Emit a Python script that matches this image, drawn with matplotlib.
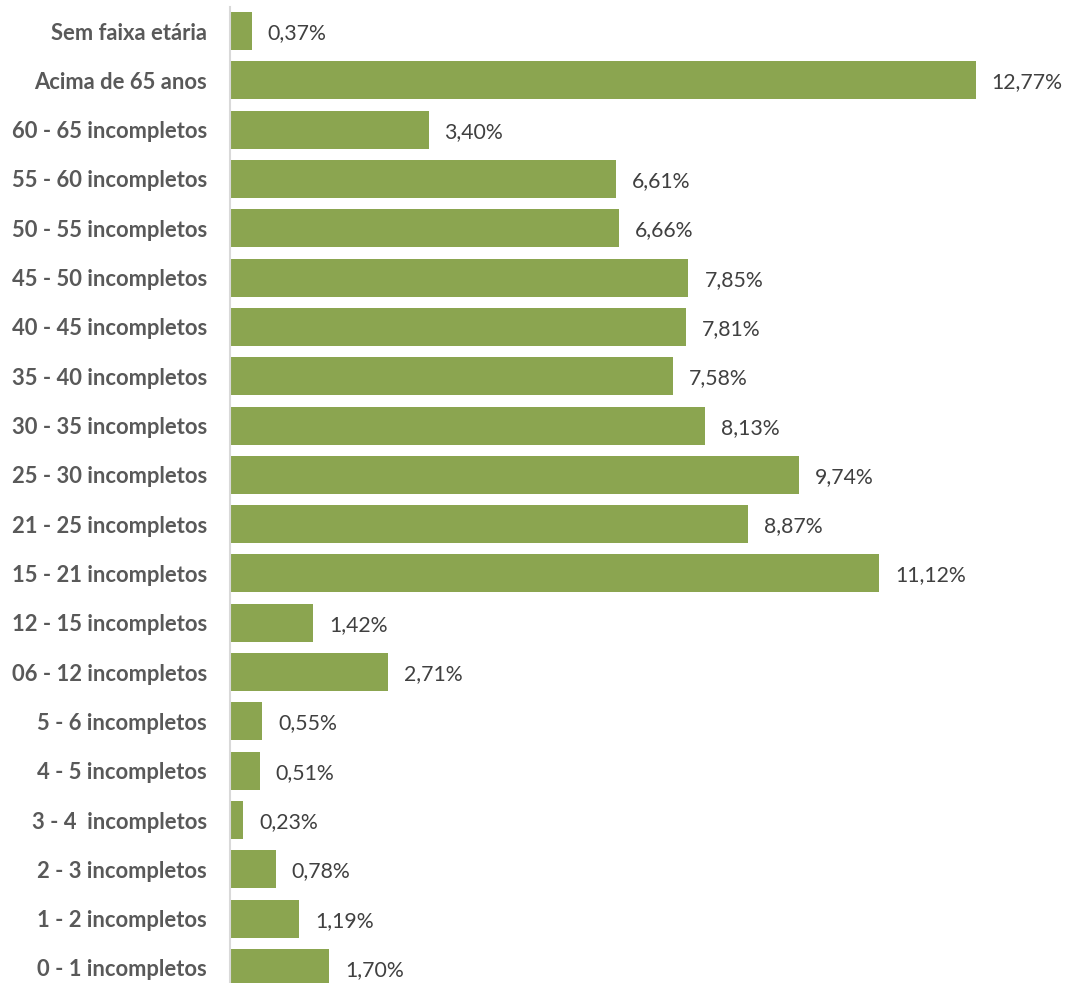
import matplotlib
matplotlib.use("Agg")
import matplotlib.pyplot as plt

# Faixas etárias, de baixo para cima
faixas = [
    "0 - 1 incompletos",
    "1 - 2 incompletos",
    "2 - 3 incompletos",
    "3 - 4  incompletos",
    "4 - 5 incompletos",
    "5 - 6 incompletos",
    "06 - 12 incompletos",
    "12 - 15 incompletos",
    "15 - 21 incompletos",
    "21 - 25 incompletos",
    "25 - 30 incompletos",
    "30 - 35 incompletos",
    "35 - 40 incompletos",
    "40 - 45 incompletos",
    "45 - 50 incompletos",
    "50 - 55 incompletos",
    "55 - 60 incompletos",
    "60 - 65 incompletos",
    "Acima de 65 anos",
    "Sem faixa etária",
]
percentuais = [1.70, 1.19, 0.78, 0.23, 0.51, 0.55, 2.71, 1.42, 11.12, 8.87,
               9.74, 8.13, 7.58, 7.81, 7.85, 6.66, 6.61, 3.40, 12.77, 0.37]

W, H = 1069, 983
fig = plt.figure(figsize=(W / 100, H / 100), dpi=100)
ax = fig.add_axes([230 / W, 0, 1 - 230 / W, 1 - 7 / H])

pos = list(range(len(faixas)))
ax.barh(pos, percentuais, height=0.77, color="#8BA550", edgecolor="none")

# eixo y: centro da barra 19 em y=31px, barra 0 em y=968px
step = (968 - 31) / 19
ax.set_ylim(-(983 - 968) / step, 19 + (31 - 7) / step)
ax.set_xlim(0, (W - 230) / 58.4)

ax.set_yticks(pos)
ax.set_yticklabels(faixas, fontfamily="Lato", fontweight="bold",
                   fontsize=15.8, color="#595959")
ax.tick_params(axis="y", length=0, pad=16.5)
ax.set_xticks([])
for s in ["top", "right", "bottom"]:
    ax.spines[s].set_visible(False)
ax.spines["left"].set_color("#D9D9D9")
ax.spines["left"].set_linewidth(1.5)

for y, v in zip(pos, percentuais):
    ax.annotate(f"{v:.2f}%".replace(".", ","), (v, y), xytext=(11.5, -1.5),
                textcoords="offset points", va="center", ha="left",
                fontfamily="Lato", fontsize=15.3, color="#404040")

fig.savefig("out.png", dpi=100)
